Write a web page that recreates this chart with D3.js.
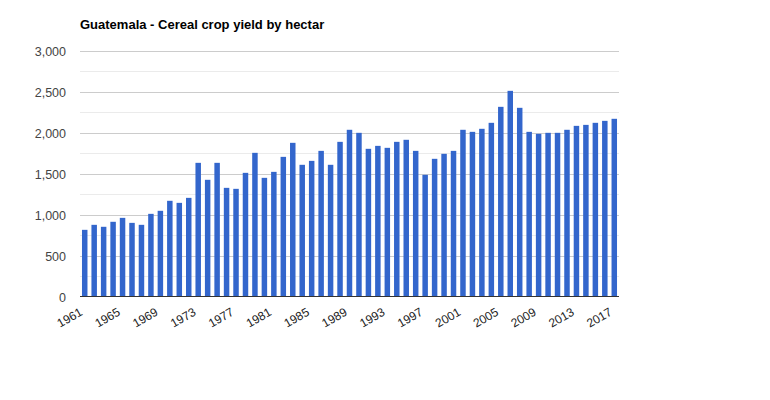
<!DOCTYPE html>
<html>
<head>
<meta charset="utf-8">
<script src="https://cdn.jsdelivr.net/npm/d3@7"></script>
<style>
body{margin:0;background:#fff;}
svg{display:block;font-family:Arial,"Liberation Sans",sans-serif;}
</style>
</head>
<body>
<svg id="chart" width="770" height="400"></svg>
<script>
const title = "Guatemala - Cereal crop yield by hectar";
const years = d3.range(1961, 2018);
const values = [813,874,850,911,959,898,874,1008,1045,1167,1142,1203,1630,1423,1630,1325,1313,1508,1752,1447,1520,1703,1874,1606,1654,1776,1606,1886,2033,1996,1801,1837,1813,1886,1911,1776,1484,1679,1740,1776,2033,2008,2045,2118,2313,2508,2301,2008,1984,1996,1996,2033,2081,2093,2118,2142,2167];
const yTicks = [0,500,1000,1500,2000,2500,3000];
const minorTicks = [250,750,1250,1750,2250,2750];
const xLabelYears = [1961,1965,1969,1973,1977,1981,1985,1989,1993,1997,2001,2005,2009,2013,2017];

const svg = d3.select("#chart");
const m = {left:80, right:151, top:50.5, bottom:103.5};
const W = 770, H = 400;
const x = d3.scaleBand().domain(years).range([m.left, W - m.right]).paddingInner(0.42).paddingOuter(0.21);
const y = d3.scaleLinear().domain([0,3000]).range([H - m.bottom, m.top]);

svg.append("text").attr("x",80).attr("y",28.5).attr("font-size",13).attr("font-weight","bold").attr("fill","#000").text(title);

svg.append("g").selectAll("line").data(minorTicks).join("line")
  .attr("x1",m.left).attr("x2",W-m.right).attr("y1",d=>Math.round(y(d))+0.5).attr("y2",d=>Math.round(y(d))+0.5)
  .attr("stroke","#ebebeb");
svg.append("g").selectAll("line").data(yTicks.filter(d=>d>0)).join("line")
  .attr("x1",m.left).attr("x2",W-m.right).attr("y1",d=>Math.round(y(d))+0.5).attr("y2",d=>Math.round(y(d))+0.5)
  .attr("stroke","#cccccc");

svg.append("g").selectAll("text").data(yTicks).join("text")
  .attr("x",66).attr("y",d=>y(d)+5).attr("text-anchor","end").attr("font-size",12.5).attr("fill","#444")
  .text(d=>d3.format(",")(d));

svg.append("g").selectAll("rect").data(years).join("rect")
  .attr("x",d=>x(d)).attr("width",x.bandwidth())
  .attr("y",(d,i)=>y(values[i])).attr("height",(d,i)=>y(0)-y(values[i]))
  .attr("fill","#3366cc");

svg.append("line").attr("x1",m.left).attr("x2",W-m.right).attr("y1",y(0)).attr("y2",y(0)).attr("stroke","#333").attr("stroke-width",1);

svg.append("g").selectAll("text").data(xLabelYears).join("text")
  .attr("text-anchor","end").attr("font-size",12).attr("fill","#222")
  .attr("transform",d=>`translate(${x(d)+x.bandwidth()/2-1.5},${y(0)+18}) rotate(-30)`)
  .text(d=>d);
</script>
</body>
</html>
